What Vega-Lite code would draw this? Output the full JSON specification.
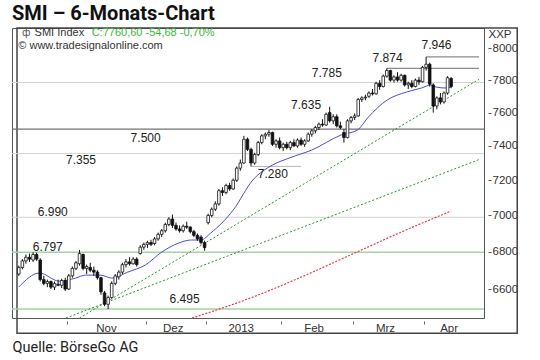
{
  "$schema": "https://vega.github.io/schema/vega-lite/v6.json",
  "width": 472,
  "height": 290,
  "autosize": {"type": "none"},
  "padding": {"left": 12, "top": 28, "right": 56, "bottom": 42},
  "background": "white",
  "title": {"text": "SMI – 6-Monats-Chart", "anchor": "start", "frame": "group", "font": "Roboto", "fontSize": 20, "fontWeight": "bold", "color": "#111111", "baseline": "alphabetic", "offset": 6, "dy": 19},
  "config": {"view": {"stroke": "#555555", "strokeWidth": 1}, "font": "Liberation Sans"},
  "datasets": {
    "candles": [
      {"i":0,"o":6680,"h":6725,"l":6670,"c":6715},{"i":1,"o":6715,"h":6760,"l":6705,"c":6750},{"i":2,"o":6750,"h":6785,"l":6735,"c":6770},{"i":3,"o":6770,"h":6790,"l":6745,"c":6760},{"i":4,"o":6755,"h":6797,"l":6745,"c":6785},{"i":5,"o":6785,"h":6795,"l":6750,"c":6760},{"i":6,"o":6755,"h":6765,"l":6640,"c":6650},{"i":7,"o":6650,"h":6670,"l":6620,"c":6630},{"i":8,"o":6630,"h":6650,"l":6610,"c":6640},{"i":9,"o":6640,"h":6645,"l":6600,"c":6610},
      {"i":10,"o":6610,"h":6640,"l":6595,"c":6630},{"i":11,"o":6625,"h":6650,"l":6615,"c":6620},{"i":12,"o":6620,"h":6655,"l":6605,"c":6645},{"i":13,"o":6645,"h":6660,"l":6590,"c":6600},{"i":14,"o":6600,"h":6680,"l":6595,"c":6670},{"i":15,"o":6670,"h":6720,"l":6660,"c":6710},{"i":16,"o":6710,"h":6750,"l":6700,"c":6740},{"i":17,"o":6735,"h":6810,"l":6725,"c":6790},{"i":18,"o":6785,"h":6790,"l":6700,"c":6710},{"i":19,"o":6710,"h":6730,"l":6680,"c":6720},
      {"i":20,"o":6715,"h":6740,"l":6690,"c":6700},{"i":21,"o":6700,"h":6720,"l":6670,"c":6690},{"i":22,"o":6690,"h":6700,"l":6650,"c":6660},{"i":23,"o":6660,"h":6665,"l":6570,"c":6585},{"i":24,"o":6580,"h":6590,"l":6510,"c":6520},{"i":25,"o":6520,"h":6565,"l":6495,"c":6555},{"i":26,"o":6555,"h":6640,"l":6550,"c":6630},{"i":27,"o":6630,"h":6680,"l":6620,"c":6670},{"i":28,"o":6665,"h":6700,"l":6650,"c":6690},{"i":29,"o":6690,"h":6740,"l":6680,"c":6730},
      {"i":30,"o":6730,"h":6760,"l":6715,"c":6745},{"i":31,"o":6745,"h":6770,"l":6725,"c":6735},{"i":32,"o":6735,"h":6770,"l":6730,"c":6760},{"i":33,"o":6760,"h":6770,"l":6720,"c":6730},{"i":34,"o":6790,"h":6835,"l":6785,"c":6825},{"i":35,"o":6825,"h":6850,"l":6810,"c":6840},{"i":36,"o":6840,"h":6860,"l":6820,"c":6850},{"i":37,"o":6850,"h":6865,"l":6830,"c":6840},{"i":38,"o":6845,"h":6880,"l":6835,"c":6870},{"i":39,"o":6870,"h":6905,"l":6860,"c":6895},
      {"i":40,"o":6895,"h":6925,"l":6880,"c":6915},{"i":41,"o":6915,"h":6960,"l":6905,"c":6950},{"i":42,"o":6950,"h":6990,"l":6940,"c":6980},{"i":43,"o":6980,"h":7005,"l":6930,"c":6945},{"i":44,"o":6945,"h":6960,"l":6915,"c":6925},{"i":45,"o":6925,"h":6945,"l":6905,"c":6915},{"i":46,"o":6915,"h":6950,"l":6905,"c":6940},{"i":47,"o":6940,"h":6965,"l":6925,"c":6935},{"i":48,"o":6935,"h":6940,"l":6900,"c":6910},{"i":49,"o":6910,"h":6920,"l":6880,"c":6890},
      {"i":50,"o":6890,"h":6900,"l":6860,"c":6870},{"i":51,"o":6880,"h":6890,"l":6840,"c":6850},{"i":52,"o":6850,"h":6860,"l":6805,"c":6822},{"i":53,"o":6960,"h":7010,"l":6950,"c":7000},{"i":54,"o":7000,"h":7045,"l":6990,"c":7035},{"i":55,"o":7035,"h":7080,"l":7025,"c":7065},{"i":56,"o":7065,"h":7150,"l":7055,"c":7140},{"i":57,"o":7140,"h":7160,"l":7110,"c":7130},{"i":58,"o":7130,"h":7180,"l":7120,"c":7170},{"i":59,"o":7170,"h":7185,"l":7140,"c":7150},
      {"i":60,"o":7150,"h":7210,"l":7145,"c":7200},{"i":61,"o":7200,"h":7280,"l":7190,"c":7270},{"i":62,"o":7270,"h":7320,"l":7255,"c":7300},{"i":63,"o":7300,"h":7460,"l":7295,"c":7440},{"i":64,"o":7440,"h":7450,"l":7370,"c":7380},{"i":65,"o":7380,"h":7390,"l":7280,"c":7300},{"i":66,"o":7300,"h":7360,"l":7290,"c":7350},{"i":67,"o":7350,"h":7430,"l":7340,"c":7420},{"i":68,"o":7420,"h":7470,"l":7410,"c":7460},{"i":69,"o":7460,"h":7480,"l":7440,"c":7470},
      {"i":70,"o":7470,"h":7495,"l":7455,"c":7480},{"i":71,"o":7480,"h":7485,"l":7400,"c":7410},{"i":72,"o":7410,"h":7440,"l":7390,"c":7430},{"i":73,"o":7430,"h":7450,"l":7380,"c":7390},{"i":74,"o":7390,"h":7420,"l":7370,"c":7410},{"i":75,"o":7410,"h":7425,"l":7380,"c":7390},{"i":76,"o":7390,"h":7430,"l":7375,"c":7420},{"i":77,"o":7420,"h":7440,"l":7395,"c":7400},{"i":78,"o":7400,"h":7445,"l":7390,"c":7435},{"i":79,"o":7435,"h":7450,"l":7400,"c":7410},
      {"i":80,"o":7410,"h":7440,"l":7395,"c":7430},{"i":81,"o":7430,"h":7480,"l":7425,"c":7470},{"i":82,"o":7470,"h":7500,"l":7455,"c":7490},{"i":83,"o":7490,"h":7520,"l":7475,"c":7510},{"i":84,"o":7510,"h":7540,"l":7495,"c":7530},{"i":85,"o":7530,"h":7560,"l":7515,"c":7525},{"i":86,"o":7525,"h":7600,"l":7520,"c":7590},{"i":87,"o":7600,"h":7635,"l":7540,"c":7550},{"i":88,"o":7550,"h":7590,"l":7530,"c":7575},{"i":89,"o":7575,"h":7590,"l":7510,"c":7520},
      {"i":90,"o":7520,"h":7545,"l":7500,"c":7510},{"i":91,"o":7480,"h":7500,"l":7420,"c":7450},{"i":92,"o":7450,"h":7560,"l":7445,"c":7550},{"i":93,"o":7550,"h":7580,"l":7535,"c":7570},{"i":94,"o":7570,"h":7595,"l":7555,"c":7580},{"i":95,"o":7580,"h":7690,"l":7575,"c":7680},{"i":96,"o":7680,"h":7700,"l":7665,"c":7690},{"i":97,"o":7690,"h":7710,"l":7675,"c":7695},{"i":98,"o":7700,"h":7730,"l":7690,"c":7720},{"i":99,"o":7720,"h":7745,"l":7705,"c":7715},
      {"i":100,"o":7715,"h":7790,"l":7710,"c":7780},{"i":101,"o":7780,"h":7800,"l":7740,"c":7760},{"i":102,"o":7760,"h":7835,"l":7755,"c":7825},{"i":103,"o":7825,"h":7874,"l":7815,"c":7860},{"i":104,"o":7860,"h":7865,"l":7790,"c":7800},{"i":105,"o":7800,"h":7830,"l":7785,"c":7820},{"i":106,"o":7820,"h":7850,"l":7790,"c":7800},{"i":107,"o":7800,"h":7840,"l":7790,"c":7830},{"i":108,"o":7830,"h":7835,"l":7760,"c":7770},{"i":109,"o":7770,"h":7790,"l":7745,"c":7780},
      {"i":110,"o":7780,"h":7800,"l":7750,"c":7760},{"i":111,"o":7760,"h":7810,"l":7755,"c":7800},{"i":112,"o":7800,"h":7820,"l":7770,"c":7790},{"i":113,"o":7790,"h":7890,"l":7785,"c":7880},{"i":114,"o":7880,"h":7946,"l":7860,"c":7900},{"i":115,"o":7900,"h":7910,"l":7760,"c":7775},{"i":116,"o":7770,"h":7780,"l":7600,"c":7640},{"i":117,"o":7640,"h":7700,"l":7620,"c":7690},{"i":118,"o":7690,"h":7720,"l":7650,"c":7665},{"i":119,"o":7665,"h":7730,"l":7655,"c":7720},
      {"i":120,"o":7720,"h":7825,"l":7710,"c":7815},{"i":121,"o":7810,"h":7820,"l":7750,"c":7760.6}
    ],
    "ma_short": [
      {"i":0,"v":6611},{"i":5.8,"v":6685},{"i":11.3,"v":6642},{"i":15.9,"v":6658},{"i":18.7,"v":6674},{"i":22.8,"v":6674},{"i":26.1,"v":6658},{"i":30.5,"v":6690},{"i":35.4,"v":6728},{"i":40.0,"v":6798},{"i":44.7,"v":6847},{"i":48.3,"v":6864},{"i":51.0,"v":6864},{"i":53.7,"v":6902},{"i":60.0,"v":7030},{"i":65.5,"v":7201},{"i":71.0,"v":7288},{"i":75.7,"v":7329},{"i":82.0,"v":7376},{"i":90.2,"v":7465},{"i":94.8,"v":7495},{"i":97.6,"v":7567},{"i":103.1,"v":7677},{"i":108.5,"v":7726},{"i":112.7,"v":7751},{"i":115.4,"v":7770},{"i":116.8,"v":7757},{"i":119.5,"v":7751},{"i":121,"v":7757}
    ],
    "ma_long": [
      {"i":48.5,"v":6449},{"i":64.7,"v":6552},{"i":78.4,"v":6658},{"i":92.1,"v":6776},{"i":105.8,"v":6897},{"i":121,"v":7025}
    ],
    "trend": [
      {"name":"A","i":17.0,"v":6449},{"name":"A","i":128.8,"v":7805},
      {"name":"B","i":13.2,"v":6449},{"name":"B","i":128.8,"v":7320}
    ],
    "labels": [
      {"label":"7.946","i":112.7,"v":8022},{"label":"7.874","i":99.0,"v":7939},{"label":"7.785","i":82.0,"v":7845},{"label":"7.635","i":76.2,"v":7645},{"label":"7.500","i":31.3,"v":7450},{"label":"7.355","i":13.2,"v":7317},{"label":"7.280","i":66.9,"v":7236},{"label":"6.990","i":5.3,"v":7019},{"label":"6.797","i":3.9,"v":6828},{"label":"6.495","i":42.2,"v":6549}
    ]
  },
  "layer": [
    {
      "data": {"values": [{}]},
      "mark": {"type": "rect", "fill": "transparent", "stroke": "#444444", "strokeWidth": 1.5, "clip": false},
      "encoding": {
        "x": {"datum": -0.5, "type": "quantitative", "axis": null},
        "x2": {"datum": 139.5},
        "y": {"datum": 8132, "type": "quantitative"},
        "y2": {"datum": 6371}
      }
    },
    {
      "data": {"values": [{"level": 7785}, {"level": 7355}, {"level": 6990}]},
      "mark": {"type": "rule", "stroke": "#d2d2d2", "strokeWidth": 1},
      "encoding": {"y": {"field": "level", "type": "quantitative"}}
    },
    {
      "data": {"values": [{"level": 6797}, {"level": 6495}]},
      "mark": {"type": "rule", "stroke": "#a3d3a3", "strokeWidth": 1.5},
      "encoding": {"y": {"field": "level", "type": "quantitative"}}
    },
    {
      "data": {"values": [{"level": 7500}]},
      "mark": {"type": "rule", "stroke": "#707070", "strokeWidth": 1.2},
      "encoding": {"y": {"field": "level", "type": "quantitative"}}
    },
    {
      "data": {"values": [{"level": 7946, "from": 114, "to": 128.8}, {"level": 7874, "from": 103, "to": 128.8}]},
      "mark": {"type": "rule", "stroke": "#8a8a8a", "strokeWidth": 1.2},
      "encoding": {
        "x": {"field": "from", "type": "quantitative", "axis": null},
        "x2": {"field": "to"},
        "y": {"field": "level", "type": "quantitative"}
      }
    },
    {
      "data": {"values": [{"level": 7280, "from": 65, "to": 79}]},
      "mark": {"type": "rule", "stroke": "#b5b5b5", "strokeWidth": 1},
      "encoding": {
        "x": {"field": "from", "type": "quantitative", "axis": null},
        "x2": {"field": "to"},
        "y": {"field": "level", "type": "quantitative"}
      }
    },
    {
      "data": {"name": "trend"},
      "mark": {"type": "line", "stroke": "#2f8f2f", "strokeWidth": 1, "strokeDash": [2, 2]},
      "encoding": {
        "x": {"field": "i", "type": "quantitative", "axis": null},
        "y": {"field": "v", "type": "quantitative"},
        "detail": {"field": "name"}
      }
    },
    {
      "data": {"name": "ma_long"},
      "mark": {"type": "line", "stroke": "#e8394a", "strokeWidth": 1.2, "strokeDash": [2, 1.5], "interpolate": "monotone"},
      "encoding": {
        "x": {"field": "i", "type": "quantitative", "axis": null},
        "y": {"field": "v", "type": "quantitative"}
      }
    },
    {
      "data": {"name": "ma_short"},
      "mark": {"type": "line", "stroke": "#4b4bd8", "strokeWidth": 1, "interpolate": "monotone"},
      "encoding": {
        "x": {"field": "i", "type": "quantitative", "axis": null},
        "y": {"field": "v", "type": "quantitative"}
      }
    },
    {
      "data": {"name": "candles"},
      "mark": {"type": "rule", "stroke": "#111111", "strokeWidth": 1},
      "encoding": {
        "x": {
          "field": "i", "type": "quantitative",
          "scale": {"domain": [-0.5, 128.8], "nice": false, "zero": false},
          "axis": {
            "orient": "bottom",
            "values": [24.4, 43.1, 62.1, 82.5, 102.5, 120.3],
            "labelExpr": "datum.value < 30 ? 'Nov' : datum.value < 50 ? 'Dez' : datum.value < 70 ? '2013' : datum.value < 90 ? 'Feb' : datum.value < 110 ? 'Mrz' : 'Apr'",
            "domain": false, "ticks": false, "grid": false,
            "labelFont": "Liberation Sans", "labelFontSize": 11.5, "labelColor": "#333333", "labelPadding": 4,
            "labelFlush": false, "labelOverlap": false,
            "title": "Quelle: BörseGo AG",
            "titleFont": "Roboto", "titleFontSize": 14.5, "titleFontWeight": "normal", "titleColor": "#222222",
            "titleAnchor": "start", "titleAlign": "left", "titleBaseline": "alphabetic", "titleX": 0, "titleY": 33.5
          }
        },
        "y": {
          "field": "l", "type": "quantitative",
          "scale": {"type": "log", "domain": [6449, 8132], "nice": false},
          "axis": {
            "orient": "right",
            "values": [6600, 6800, 7000, 7200, 7400, 7600, 7800, 8000],
            "format": "d", "grid": false, "domain": false, "offset": 4,
            "tickSize": 3, "tickColor": "#555555", "labelPadding": 1,
            "labelFont": "Liberation Sans", "labelFontSize": 11.5, "labelColor": "#333333",
            "title": "XXP", "titleAngle": 0, "titleAlign": "left", "titleBaseline": "middle",
            "titleX": 0, "titleY": 6, "titleFont": "Liberation Sans", "titleFontSize": 11.5, "titleFontWeight": "normal", "titleColor": "#333333"
          }
        },
        "y2": {"field": "h"}
      }
    },
    {
      "data": {"name": "candles"},
      "mark": {"type": "bar", "width": 2.6, "stroke": "#111111", "strokeWidth": 0.8},
      "encoding": {
        "x": {
          "field": "i", "type": "quantitative",
          "axis": {
            "orient": "bottom",
            "values": [13.5, 35.5, 52.5, 73.5, 93.5, 113.5],
            "labels": false, "domain": false, "grid": false, "ticks": true,
            "tickSize": 3, "tickColor": "#666666", "offset": 3, "title": null
          }
        },
        "y": {"field": "o", "type": "quantitative"},
        "y2": {"field": "c"},
        "fill": {"condition": {"test": "datum.c > datum.o", "value": "#ffffff"}, "value": "#111111"}
      }
    },
    {
      "data": {"name": "labels"},
      "mark": {"type": "text", "align": "left", "baseline": "middle", "font": "Liberation Sans", "fontSize": 12, "color": "#222222"},
      "encoding": {
        "x": {"field": "i", "type": "quantitative", "axis": null},
        "y": {"field": "v", "type": "quantitative"},
        "text": {"field": "label"}
      }
    },
    {
      "data": {"values": [{}]},
      "mark": {"type": "text", "align": "left", "baseline": "middle", "font": "DejaVu Sans", "fontSize": 10, "color": "#555555", "text": "ф"},
      "encoding": {
        "x": {"datum": 0.87, "type": "quantitative", "axis": null},
        "y": {"datum": 8100, "type": "quantitative"}
      }
    },
    {
      "data": {"values": [{}]},
      "mark": {"type": "text", "align": "left", "baseline": "middle", "font": "Liberation Sans", "fontSize": 11, "color": "#333333", "text": "SMI Index"},
      "encoding": {
        "x": {"datum": 4.43, "type": "quantitative", "axis": null},
        "y": {"datum": 8100, "type": "quantitative"}
      }
    },
    {
      "data": {"values": [{}]},
      "mark": {"type": "text", "align": "left", "baseline": "middle", "font": "Liberation Sans", "fontSize": 11, "color": "#3cb83c", "text": "C:7760,60 -54,68 -0,70%"},
      "encoding": {
        "x": {"datum": 20.4, "type": "quantitative", "axis": null},
        "y": {"datum": 8100, "type": "quantitative"}
      }
    },
    {
      "data": {"values": [{}]},
      "mark": {"type": "text", "align": "left", "baseline": "middle", "font": "Liberation Sans", "fontSize": 11, "color": "#333333", "text": "© www.tradesignalonline.com"},
      "encoding": {
        "x": {"datum": -0.14, "type": "quantitative", "axis": null},
        "y": {"datum": 8016, "type": "quantitative"}
      }
    }
  ],
  "resolve": {"axis": {"x": "independent"}}
}
